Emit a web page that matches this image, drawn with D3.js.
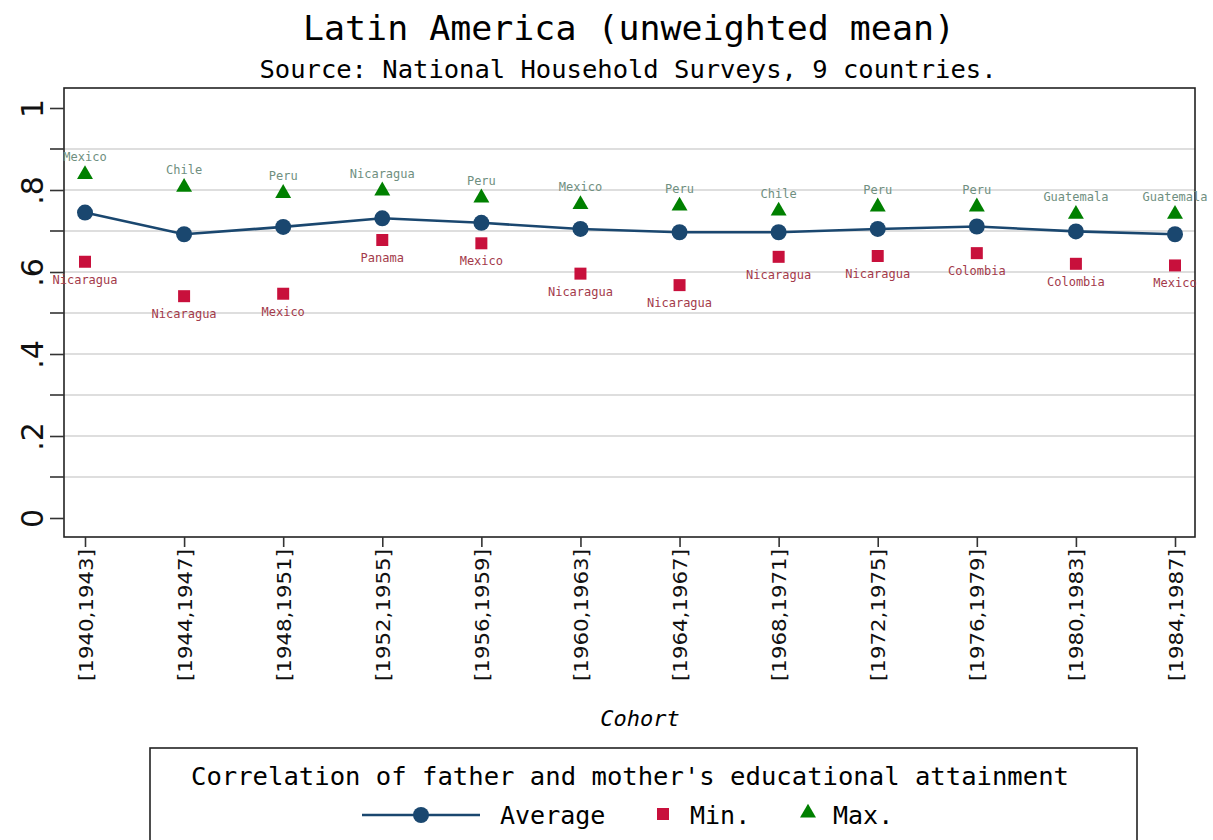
<!DOCTYPE html>
<html><head><meta charset="utf-8">
<script src="https://cdn.jsdelivr.net/npm/d3@7"></script>
<style>body{margin:0;background:#fff}svg{display:block}</style>
</head><body><svg id="c" width="1213" height="840"></svg>
<script>
const cohorts = ["[1940,1943]","[1944,1947]","[1948,1951]","[1952,1955]","[1956,1959]","[1960,1963]","[1964,1967]","[1968,1971]","[1972,1975]","[1976,1979]","[1980,1983]","[1984,1987]"];
const avgValues = [0.745,0.692,0.710,0.731,0.720,0.705,0.697,0.697,0.705,0.711,0.699,0.692];
const minValues = [0.625,0.541,0.547,0.678,0.670,0.596,0.568,0.637,0.639,0.646,0.620,0.616];
const minCountries = ["Nicaragua","Nicaragua","Mexico","Panama","Mexico","Nicaragua","Nicaragua","Nicaragua","Nicaragua","Colombia","Colombia","Mexico"];
const maxValues = [0.838,0.807,0.792,0.798,0.781,0.765,0.761,0.749,0.759,0.759,0.741,0.741];
const maxCountries = ["Mexico","Chile","Peru","Nicaragua","Peru","Mexico","Peru","Chile","Peru","Peru","Guatemala","Guatemala"];
const yTicks = [0,0.2,0.4,0.6,0.8,1];
const yTickLabels = ["0",".2",".4",".6",".8","1"];
const yMinorTicks = [0.1,0.3,0.5,0.7,0.9];

const NAVY="#1a476f", RED="#c8103c", GREEN="#008000";
const mono = "'DejaVu Sans Mono', 'Liberation Mono', monospace";
const sans = "'DejaVu Sans', Verdana, sans-serif";
const svg = d3.select("#c");
const frame = {l:64, r:1195, t:88, b:537};
const y = d3.scaleLinear().domain([0,1]).range([518,108]);
const x = d3.scalePoint().domain(cohorts).range([85,1175]);

// title
svg.append("text").attr("x",629).attr("y",40).attr("text-anchor","middle")
  .style("font-family",mono).style("font-size","34px").attr("textLength",652).attr("lengthAdjust","spacingAndGlyphs")
  .text("Latin America (unweighted mean)");
svg.append("text").attr("x",628).attr("y",78).attr("text-anchor","middle")
  .style("font-family",mono).style("font-size","25px").attr("textLength",737).attr("lengthAdjust","spacingAndGlyphs")
  .text("Source: National Household Surveys, 9 countries.");

// gridlines
svg.append("g").selectAll("line").data(d3.range(1,10).map(d=>d/10)).join("line")
  .attr("x1",frame.l).attr("x2",frame.r).attr("y1",d=>y(d)).attr("y2",d=>y(d))
  .attr("stroke","#dedede").attr("stroke-width",2);

// frame
svg.append("rect").attr("x",frame.l).attr("y",frame.t).attr("width",frame.r-frame.l).attr("height",frame.b-frame.t)
  .attr("fill","none").attr("stroke","#222").attr("stroke-width",1.6);

// y axis
const yAxis = d3.axisLeft(y).tickValues(yTicks).tickFormat((d,i)=>yTickLabels[i]).tickSize(14).tickPadding(0);
const ga = svg.append("g").attr("transform",`translate(${frame.l},0)`).call(yAxis);
ga.select(".domain").remove();
ga.selectAll(".tick line").attr("stroke","#333").attr("stroke-width",1.6);
ga.selectAll(".tick text").attr("x",null).attr("dy",null)
  .attr("transform","translate(-21,0) rotate(-90)").attr("text-anchor","middle")
  .style("font-family",sans).style("font-size","30px").attr("fill","#111");
svg.append("g").selectAll("line").data(yMinorTicks).join("line")
  .attr("x1",frame.l-14).attr("x2",frame.l).attr("y1",d=>y(d)).attr("y2",d=>y(d))
  .attr("stroke","#333").attr("stroke-width",1.6);

// x axis
const xAxis = d3.axisBottom(x).tickSize(10).tickPadding(0);
const gx = svg.append("g").attr("transform",`translate(0,${frame.b})`).call(xAxis);
gx.select(".domain").remove();
gx.selectAll(".tick line").attr("stroke","#333").attr("stroke-width",1.6);
gx.selectAll(".tick text").attr("y",null).attr("dy",null)
  .attr("transform","translate(7,12) rotate(-90)").attr("text-anchor","end")
  .attr("textLength",132).attr("lengthAdjust","spacingAndGlyphs")
  .style("font-family",sans).style("font-size","19px").attr("fill","#111");

// axis title
svg.append("text").attr("x",640).attr("y",726).attr("text-anchor","middle")
  .style("font-family",mono).style("font-size","22px").style("font-style","italic").text("Cohort");

// avg line
svg.append("path").datum(avgValues)
  .attr("d",d3.line().x((d,i)=>x(cohorts[i])).y(d=>y(d)))
  .attr("fill","none").attr("stroke",NAVY).attr("stroke-width",2.6);
svg.append("g").selectAll("circle").data(avgValues).join("circle")
  .attr("cx",(d,i)=>x(cohorts[i])).attr("cy",d=>y(d)).attr("r",8).attr("fill",NAVY);

// min
const sq = d3.symbol().type(d3.symbolSquare).size(144);
svg.append("g").selectAll("path").data(minValues).join("path")
  .attr("transform",(d,i)=>`translate(${x(cohorts[i])},${y(d)})`).attr("d",sq).attr("fill",RED);
svg.append("g").selectAll("text").data(minValues).join("text")
  .attr("x",(d,i)=>x(cohorts[i])).attr("y",d=>y(d)+22).attr("text-anchor","middle")
  .style("font-family",mono).style("font-size","12px").attr("fill","#a33a4a")
  .text((d,i)=>minCountries[i]);

// max
const tri = d3.symbol().type(d3.symbolTriangle).size(110);
svg.append("g").selectAll("path").data(maxValues).join("path")
  .attr("transform",(d,i)=>`translate(${x(cohorts[i])},${y(d)})`).attr("d",tri).attr("fill",GREEN);
svg.append("g").selectAll("text").data(maxValues).join("text")
  .attr("x",(d,i)=>x(cohorts[i])).attr("y",d=>y(d)-13).attr("text-anchor","middle")
  .style("font-family",mono).style("font-size","12px").attr("fill","#6f8f80")
  .text((d,i)=>maxCountries[i]);

// legend
svg.append("rect").attr("x",150).attr("y",748).attr("width",987).attr("height",120)
  .attr("fill","#fff").attr("stroke","#222").attr("stroke-width",1.6);
svg.append("text").attr("x",630).attr("y",785).attr("text-anchor","middle")
  .style("font-family",mono).style("font-size","25px").attr("textLength",878).attr("lengthAdjust","spacingAndGlyphs")
  .text("Correlation of father and mother's educational attainment");
svg.append("line").attr("x1",362).attr("x2",480).attr("y1",815).attr("y2",815).attr("stroke",NAVY).attr("stroke-width",2.6);
svg.append("circle").attr("cx",421).attr("cy",815).attr("r",8).attr("fill",NAVY);
svg.append("text").attr("x",500).attr("y",824).style("font-family",mono).style("font-size","25px").text("Average");
svg.append("path").attr("transform","translate(663,814)").attr("d",sq).attr("fill",RED);
svg.append("text").attr("x",690).attr("y",824).style("font-family",mono).style("font-size","25px").text("Min.");
svg.append("path").attr("transform","translate(808,813)").attr("d",tri).attr("fill",GREEN);
svg.append("text").attr("x",833).attr("y",824).style("font-family",mono).style("font-size","25px").text("Max.");
</script></body></html>
